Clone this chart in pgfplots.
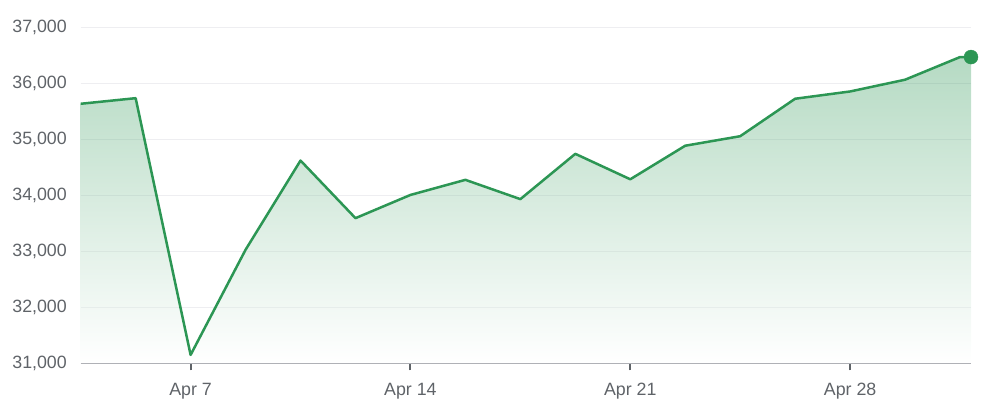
\documentclass[border=0pt]{standalone}
\usepackage{fontspec}
\setmainfont{Liberation Sans}
\usepackage{pgfplots}
\pgfplotsset{compat=1.18}
\definecolor{lgreen}{RGB}{44,150,84}
\definecolor{tgray}{RGB}{95,99,104}
\definecolor{agray}{RGB}{165,167,172}
\definecolor{ggray}{RGB}{238,238,241}
\begin{document}
\begin{tikzpicture}
\useasboundingbox (0,0) rectangle (1005bp,409bp);
\begin{axis}[
  at={(80.7bp,45.7bp)}, anchor=south west,
  scale only axis, width=890.3bp, height=335.6bp,
  xmin=0, xmax=16.2, ymin=31000, ymax=37000,
  clip=false,
  axis x line*=bottom, axis y line*=left,
  y axis line style={draw=none},
  x axis line style={draw=agray, line width=1.5bp},
  xtick={2,6,10,14}, xticklabels={Apr 7, Apr 14, Apr 21, Apr 28},
  ytick={31000,32000,...,37000},
  ymajorgrids, major grid style={draw=ggray, line width=1bp},
  ytick style={draw=none},
  xtick style={draw=tgray, line width=2bp},
  major tick length=7bp, tick align=outside,
  scaled y ticks=false,
  /pgf/number format/.cd, 1000 sep={,}, assume math mode=true,
  /pgfplots/.cd,
  tick label style={font=\fontsize{17.8bp}{20bp}\selectfont, text=tgray, inner sep=0pt},
  yticklabel style={anchor=east, xshift=-6.7bp},
  xticklabel style={anchor=north, yshift=-12.7bp},
]
\addplot[draw=none, top color=lgreen, middle color=lgreen!38!white, bottom color=white, fill opacity=0.35] coordinates {
(0,31000) (0,35640) (1,35740) (2,31150) (3,33030) (4,34625) (5,33595) (6,34010) (7,34280)
(8,33935) (9,34745) (10,34290) (11,34890) (12,35060) (13,35730) (14,35860) (15,36070)
(16,36475) (16.2,36475) (16.2,31000)};
\addplot[lgreen, line width=2.5bp, line join=round] coordinates {
(0,35640) (1,35740) (2,31150) (3,33030) (4,34625) (5,33595) (6,34010) (7,34280)
(8,33935) (9,34745) (10,34290) (11,34890) (12,35060) (13,35730) (14,35860) (15,36070)
(16,36475) (16.2,36475)};
\addplot[lgreen, only marks, mark=*, mark size=7bp, mark options={draw=none, fill=lgreen}] coordinates {(16.2,36475)};
\end{axis}
\end{tikzpicture}
\end{document}
